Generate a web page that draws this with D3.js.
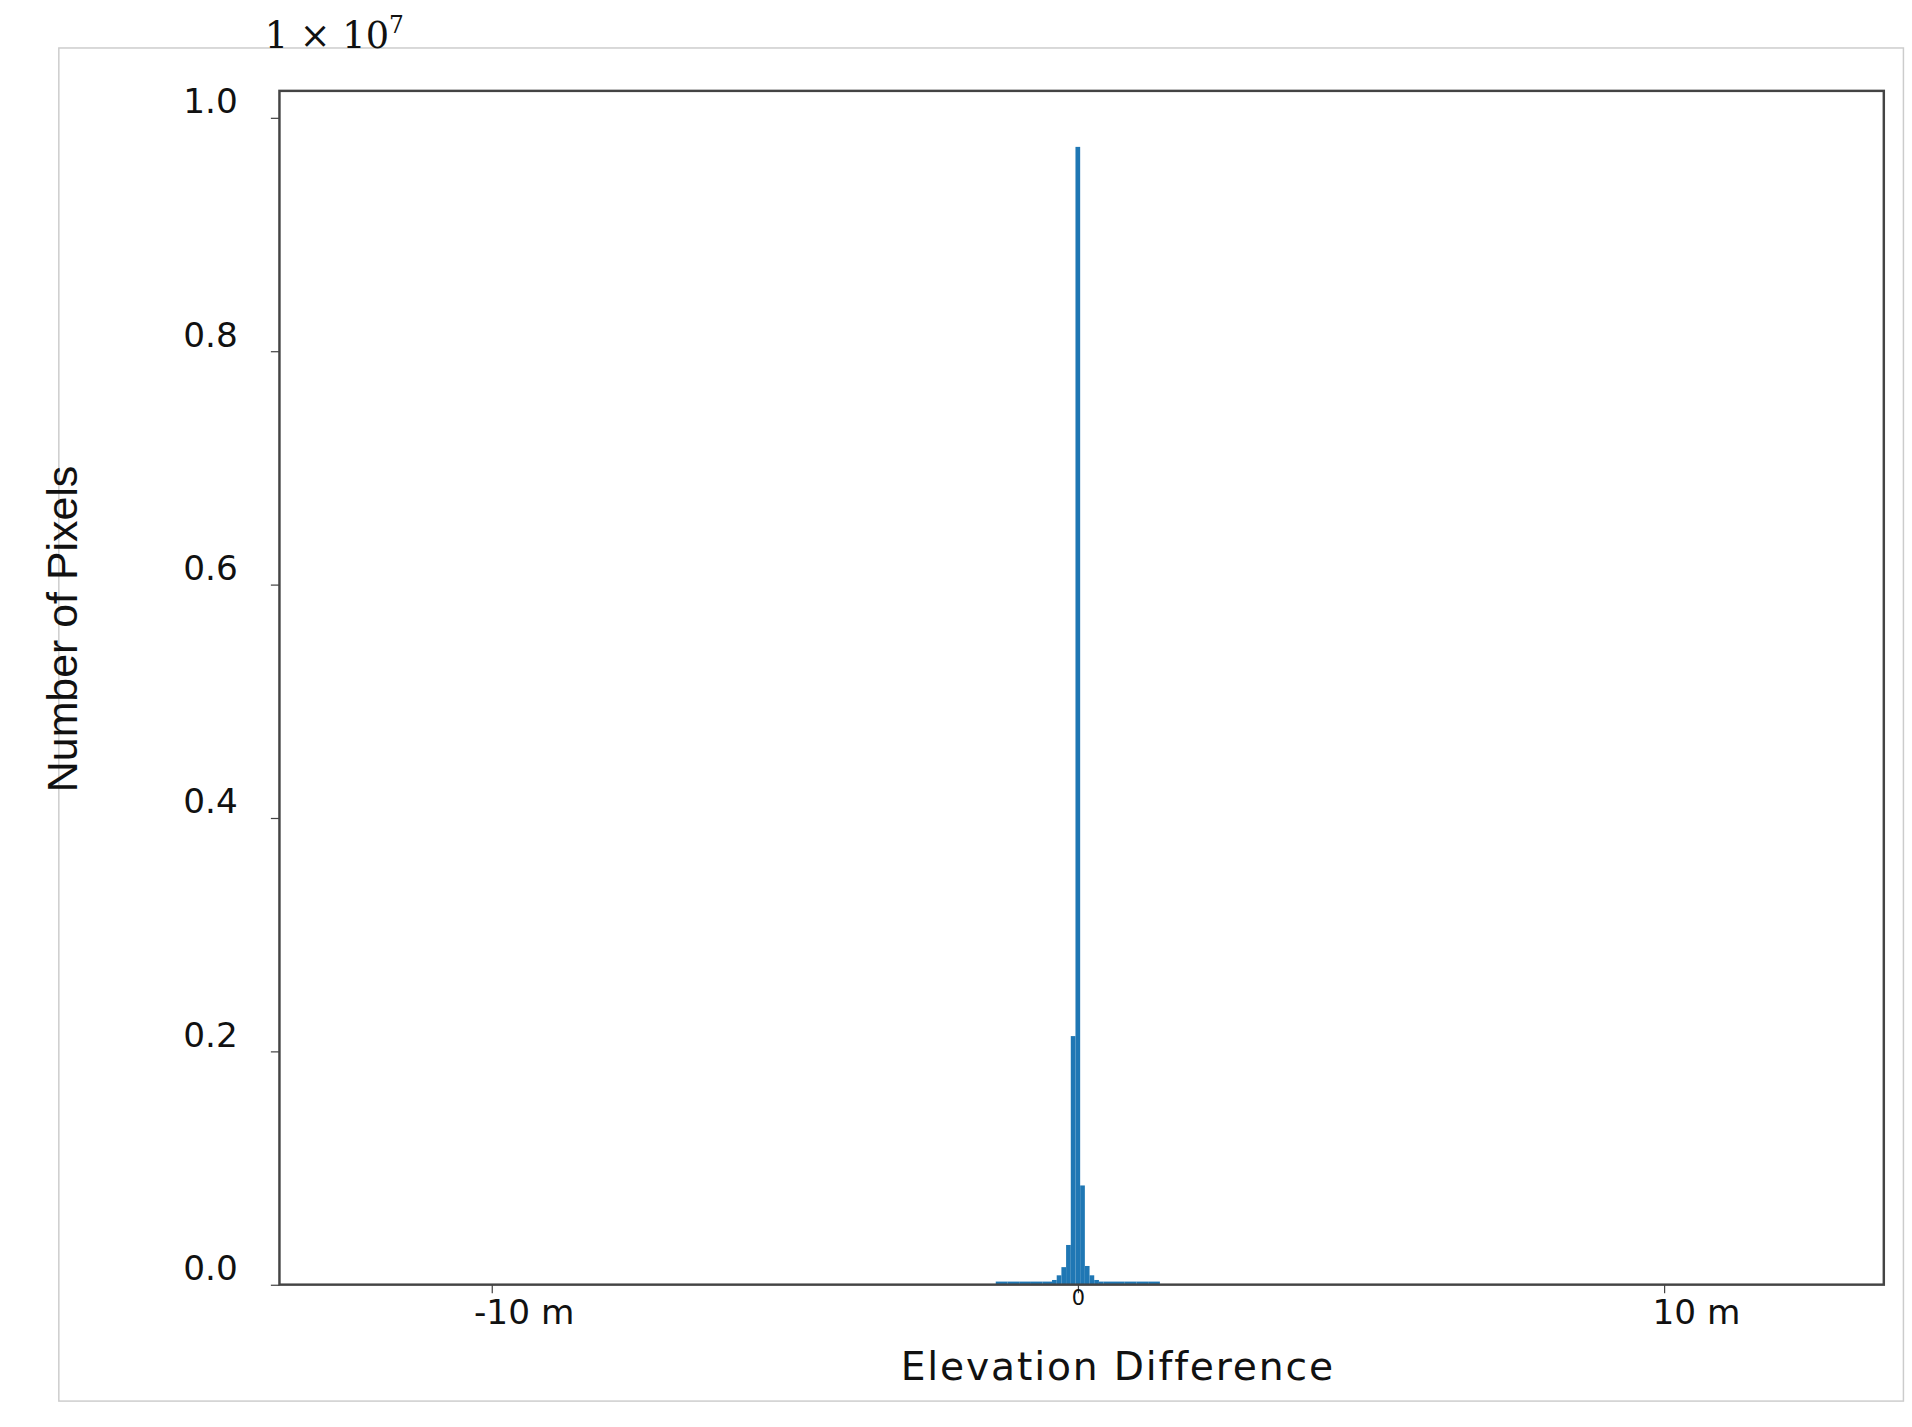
<!DOCTYPE html>
<html><head><meta charset="utf-8">
<script src="https://cdn.jsdelivr.net/npm/d3@7"></script>
<style>body{margin:0;background:#fff}</style></head>
<body><svg id="c"></svg>
<script>
// histogram bins (m), counts in units of 1e7
const binStarts = [-1.40,-1.20,-1.00,-0.80,-0.60,-0.44,-0.36,-0.28,-0.20,-0.12,-0.04,0.04,0.12,0.20,0.28,0.36,0.44,0.60,0.80,1.00,1.20];
const binEnds   = [-1.20,-1.00,-0.80,-0.60,-0.44,-0.36,-0.28,-0.20,-0.12,-0.04,0.04,0.12,0.20,0.28,0.36,0.44,0.60,0.80,1.00,1.20,1.40];
const counts    = [0.0004,0.0006,0.0008,0.001,0.002,0.004,0.008,0.015,0.034,0.213,0.975,0.085,0.016,0.008,0.004,0.002,0.0015,0.001,0.0006,0.0004,0.0003];
const yTicks = [0,0.2,0.4,0.6,0.8,1.0];
const xTicks = [-10,0,10];
const xTickLabels = ["-10 m","0","10 m"];

const W=1560,H=1164;
const svg=d3.select("#c").attr("width",1912).attr("height",1427).attr("viewBox",`0 0 ${W} ${H}`);
const L=228,R=1537,T=74,B=1048;
const x=d3.scaleLinear().domain([-13.62,13.75]).range([L,R]);
const y=d3.scaleLinear().domain([0,1.023]).range([B,T]);

svg.append("rect").attr("x",48).attr("y",39).attr("width",1505).attr("height",1104).attr("fill","none").attr("stroke","#ccc").attr("stroke-width",1.2);

svg.append("g").selectAll("rect").data(counts).join("rect")
  .attr("x",(d,i)=>x(binStarts[i])).attr("width",(d,i)=>Math.max(0.8,x(binEnds[i])-x(binStarts[i])))
  .attr("y",d=>Math.min(y(d),B-2.5)).attr("height",d=>Math.max(2.5,B-y(d))).attr("fill","#1f77b4");

svg.append("rect").attr("x",L).attr("y",T).attr("width",R-L).attr("height",B-T).attr("fill","none").attr("stroke","#444").attr("stroke-width",2);

const ya=svg.append("g").attr("transform",`translate(${L},0)`).call(d3.axisLeft(y).tickValues(yTicks).tickFormat(d3.format(".1f")).tickSize(7));
ya.select(".domain").remove();
ya.selectAll("text").attr("font-family","DejaVu Sans").attr("font-size",28).attr("fill","#111").attr("dx",-24).attr("dy","-0.15em");
ya.selectAll("line").attr("stroke","#444");

const xa=svg.append("g").attr("transform",`translate(0,${B})`).call(d3.axisBottom(x).tickValues(xTicks).tickFormat((d,i)=>xTickLabels[i]).tickSize(7));
xa.select(".domain").remove();
xa.selectAll("line").attr("stroke","#444");
xa.selectAll("text").attr("font-family","DejaVu Sans").attr("fill","#111")
  .attr("font-size",(d)=>d===0?17:28).attr("dx",d=>d===0?0:26).attr("dy",d=>d===0?"0.4em":"0.8em");

svg.append("text").attr("x",912).attr("y",1126).attr("text-anchor","middle").attr("font-family","DejaVu Sans").attr("font-size",32).attr("letter-spacing",1.5).attr("fill","#111").text("Elevation Difference");
svg.append("text").attr("transform","translate(63,513) rotate(-90)").attr("text-anchor","middle").attr("font-family","Liberation Sans Narrow, Liberation Sans").attr("font-size",35).attr("fill","#111").text("Number of Pixels");
const ex=svg.append("text").attr("x",216).attr("y",39).attr("font-family","DejaVu Serif").attr("font-size",30).attr("fill","#111");
ex.append("tspan").text("1 × 10");
ex.append("tspan").attr("dy",-12).attr("font-size",19).text("7");
</script></body></html>
